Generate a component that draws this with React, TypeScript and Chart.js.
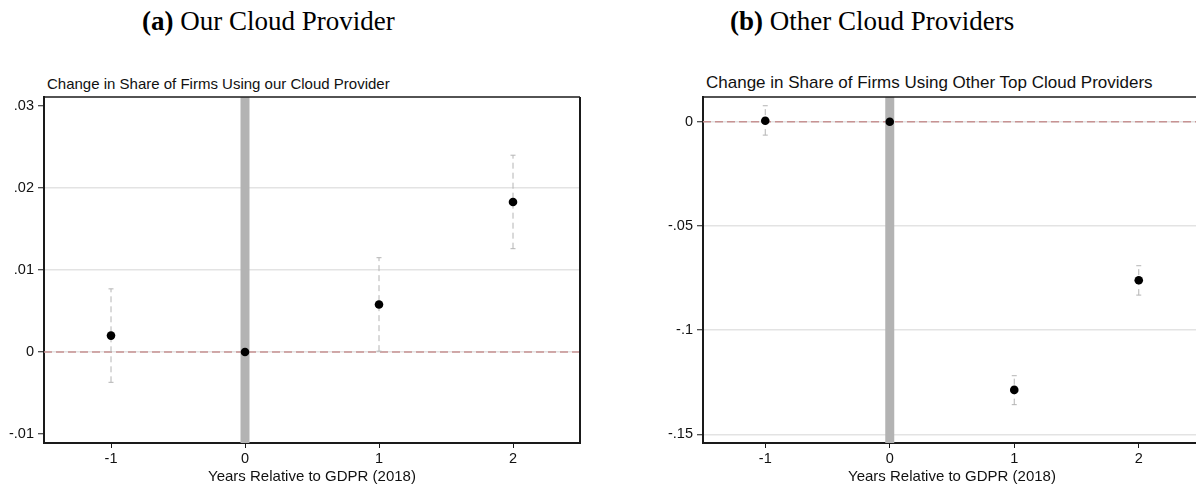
import React, { useEffect, useRef } from 'react';
import { Chart, registerables } from 'chart.js';

Chart.register(...registerables);

// ---------- data ----------
const years = [-1, 0, 1, 2];
const xTicks = [-1, 0, 1, 2];
const xRange = [-1.5, 2.5];

// Panel (a): our cloud provider
const ourCoef = [0.002, 0, 0.0058, 0.0183];
const ourLo = [-0.0037, null, 0.0001, 0.0126];
const ourHi = [0.0077, null, 0.0115, 0.024];
const yTicksA = [-0.01, 0, 0.01, 0.02, 0.03];
const yRangeA = [-0.0111, 0.0311];
const noGridA = [-0.01, 0.03];

// Panel (b): other top cloud providers
const otherCoef = [0.0005, 0, -0.1287, -0.0761];
const otherLo = [-0.0064, null, -0.1358, -0.0832];
const otherHi = [0.0077, null, -0.1219, -0.0691];
const yTicksB = [-0.15, -0.1, -0.05, 0];
const yRangeB = [-0.1542, 0.0119];
const noGridB: number[] = [];

const eventYear = 0;
const xTitle = 'Years Relative to GDPR (2018)';

// ---------- helpers ----------
const SANS = '"Liberation Sans", Arial, Helvetica, sans-serif';
const SERIF = '"Liberation Serif", "Times New Roman", serif';

function fmt(v: number): string {
  const s = String(+v.toFixed(4));
  return s.replace(/^(-?)0\./, '$1.');
}

function ciData(lo: (number | null)[], hi: (number | null)[]) {
  const out: { x: number; y: number | null }[] = [];
  years.forEach((yr, i) => {
    if (lo[i] === null || hi[i] === null) return;
    out.push({ x: yr, y: lo[i] as number });
    out.push({ x: yr, y: hi[i] as number });
    out.push({ x: yr, y: null });
  });
  return out;
}

const framePlugin = {
  id: 'frame',
  afterDraw(chart: any, _args: any, opts: any) {
    const { ctx, chartArea } = chart;
    ctx.save();
    ctx.strokeStyle = '#1a1a1a';
    ctx.lineWidth = 1.5;
    ctx.beginPath();
    ctx.moveTo(chartArea.left, chartArea.top);
    ctx.lineTo(chartArea.right, chartArea.top);
    ctx.stroke();
    if (opts && opts.right) {
      ctx.lineWidth = 2;
      ctx.beginPath();
      ctx.moveTo(chartArea.right, chartArea.top);
      ctx.lineTo(chartArea.right, chartArea.bottom);
      ctx.stroke();
    }
    ctx.restore();
  },
};

interface PanelSpec {
  coef: number[];
  lo: (number | null)[];
  hi: (number | null)[];
  yTicks: number[];
  yRange: number[];
  noGrid: number[];
  yAxisWidth: number;
  padRight: number;
  rightBorder: boolean;
}

function buildConfig(p: PanelSpec): any {
  return {
    type: 'scatter',
    data: {
      datasets: [
        {
          label: 'coef',
          data: years.map((x, i) => ({ x, y: p.coef[i] })),
          pointRadius: 4.3,
          pointBackgroundColor: '#000',
          pointBorderWidth: 0,
          showLine: false,
          order: 0,
        },
        {
          label: 'ci',
          data: ciData(p.lo, p.hi),
          showLine: true,
          spanGaps: false,
          borderColor: '#b4b4b4',
          borderWidth: 1,
          borderDash: [6, 4],
          pointStyle: 'line',
          pointRadius: 2.5,
          pointBorderColor: '#b4b4b4',
          pointBorderWidth: 1,
          order: 1,
        },
        {
          label: 'event',
          data: [
            { x: eventYear, y: p.yRange[0] },
            { x: eventYear, y: p.yRange[1] },
          ],
          showLine: true,
          borderColor: '#b3b3b3',
          borderWidth: 9,
          borderCapStyle: 'butt',
          pointRadius: 0,
          order: 2,
        },
        {
          label: 'zero',
          data: [
            { x: xRange[0], y: 0 },
            { x: xRange[1], y: 0 },
          ],
          showLine: true,
          borderColor: '#c79393',
          borderWidth: 1.5,
          borderDash: [8, 4],
          pointRadius: 0,
          order: 3,
        },
      ],
    },
    options: {
      responsive: false,
      animation: false,
      events: [],
      layout: { padding: { top: 97, right: p.padRight, bottom: 0, left: 0 } },
      plugins: {
        legend: { display: false },
        tooltip: { enabled: false },
        title: { display: false },
        frame: { right: p.rightBorder },
      },
      scales: {
        x: {
          type: 'linear',
          min: xRange[0],
          max: xRange[1],
          afterBuildTicks: (s: any) => {
            s.ticks = xTicks.map((v) => ({ value: v }));
          },
          afterFit: (s: any) => {
            s.height = 44;
          },
          grid: {
            drawOnChartArea: false,
            drawTicks: true,
            tickLength: 5,
            tickColor: '#1a1a1a',
            tickWidth: 1,
          },
          border: { display: true, color: '#1a1a1a', width: 2 },
          ticks: {
            padding: 2,
            color: '#111',
            font: { family: SANS, size: 14.5 },
            callback: (v: number) => fmt(v),
          },
          title: {
            display: true,
            text: xTitle,
            color: '#111',
            font: { family: SANS, size: 15 },
            padding: { top: 0, bottom: 1 },
          },
        },
        y: {
          type: 'linear',
          min: p.yRange[0],
          max: p.yRange[1],
          afterBuildTicks: (s: any) => {
            s.ticks = p.yTicks.map((v) => ({ value: v }));
          },
          afterFit: (s: any) => {
            s.width = p.yAxisWidth;
          },
          grid: {
            drawOnChartArea: true,
            drawTicks: true,
            tickLength: 6,
            tickColor: '#1a1a1a',
            tickWidth: 1,
            lineWidth: 1.5,
            color: (c: any) =>
              c.tick && p.noGrid.includes(c.tick.value) ? 'rgba(0,0,0,0)' : '#e3e3e3',
          },
          border: { display: true, color: '#1a1a1a', width: 2 },
          ticks: {
            padding: 4,
            color: '#111',
            font: { family: SANS, size: 14.5 },
            callback: (v: number) => fmt(v),
          },
        },
      },
    },
    plugins: [framePlugin],
  };
}

function Panel({ left, width, spec }: { left: number; width: number; spec: PanelSpec }) {
  const ref = useRef<HTMLCanvasElement>(null);
  useEffect(() => {
    if (!ref.current) return;
    const chart = new Chart(ref.current, buildConfig(spec));
    return () => chart.destroy();
  }, []);
  return (
    <canvas
      ref={ref}
      width={width}
      height={487}
      style={{ position: 'absolute', left, top: 0, width, height: 487 }}
    />
  );
}

const titleStyle: React.CSSProperties = {
  position: 'absolute',
  top: 8,
  fontFamily: SERIF,
  fontSize: 27,
  lineHeight: '27px',
  whiteSpace: 'nowrap',
  color: '#000',
};

const subStyle: React.CSSProperties = {
  position: 'absolute',
  fontFamily: SANS,
  whiteSpace: 'nowrap',
  color: '#111',
};

export default function App() {
  const specA: PanelSpec = {
    coef: ourCoef,
    lo: ourLo,
    hi: ourHi,
    yTicks: yTicksA,
    yRange: yRangeA,
    noGrid: noGridA,
    yAxisWidth: 44,
    padRight: 18,
    rightBorder: true,
  };
  const specB: PanelSpec = {
    coef: otherCoef,
    lo: otherLo,
    hi: otherHi,
    yTicks: yTicksB,
    yRange: yRangeB,
    noGrid: noGridB,
    yAxisWidth: 105,
    padRight: 2,
    rightBorder: true,
  };
  return (
    <div
      style={{
        position: 'absolute',
        left: 0,
        top: 0,
        width: 1196,
        height: 487,
        overflow: 'hidden',
        background: '#fff',
      }}
    >
      <div style={{ ...titleStyle, left: 142 }}>
        <b>(a)</b> Our Cloud Provider
      </div>
      <div style={{ ...titleStyle, left: 730 }}>
        <b>(b)</b> Other Cloud Providers
      </div>
      <div style={{ ...subStyle, left: 47, top: 75.5, fontSize: 15, lineHeight: '15px' }}>
        Change in Share of Firms Using our Cloud Provider
      </div>
      <div style={{ ...subStyle, left: 706, top: 74, fontSize: 17, lineHeight: '17px' }}>
        Change in Share of Firms Using Other Top Cloud Providers
      </div>
      <Panel left={0} width={598} spec={specA} />
      <Panel left={598} width={608} spec={specB} />
    </div>
  );
}
